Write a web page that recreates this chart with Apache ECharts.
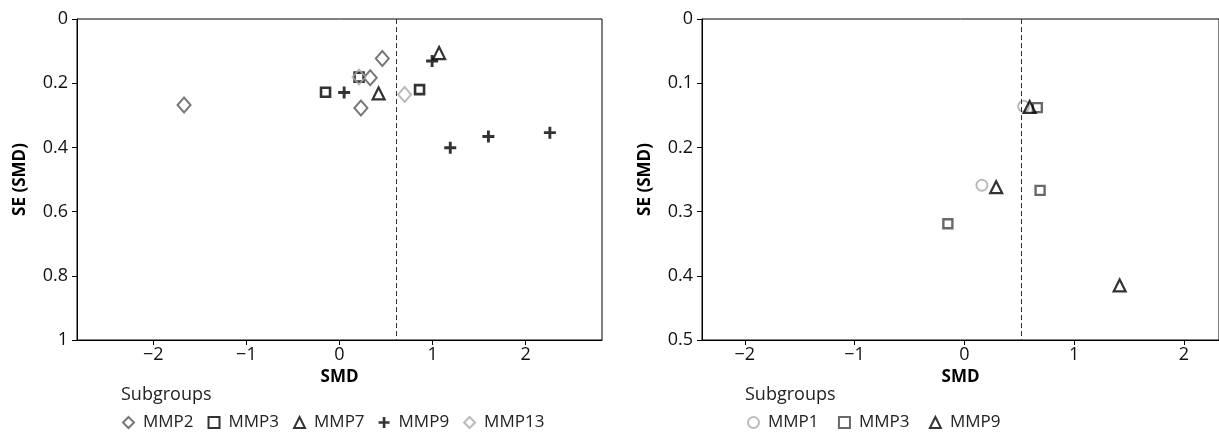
<!DOCTYPE html>
<html>
<head>
<meta charset="utf-8">
<script src="https://cdn.jsdelivr.net/npm/echarts@6/dist/echarts.min.js"></script>
<style>
  html, body { margin: 0; padding: 0; background: #fff; }
  #chart { width: 1219px; height: 432px; }
</style>
</head>
<body>
<div id="chart"></div>
<script>
// left funnel plot: [SMD, SE(SMD)]
var leftMMP2 = [[0.46, 0.123], [0.33, 0.183], [0.23, 0.277], [-1.67, 0.268]];
var leftMMP3 = [[-0.15, 0.228], [0.86, 0.220], [0.21, 0.181]];
var leftMMP7 = [[1.07, 0.106], [0.42, 0.232]];
var leftMMP9 = [[0.05, 0.229], [0.995, 0.131], [1.19, 0.401], [1.60, 0.366], [2.26, 0.354]];
var leftMMP13 = [[0.70, 0.235], [0.21, 0.181]];
var leftPooled = 0.614;

// right funnel plot
var rightMMP1 = [[0.54, 0.136], [0.16, 0.259]];
var rightMMP3 = [[0.665, 0.138], [0.69, 0.267], [-0.15, 0.319]];
var rightMMP9 = [[0.595, 0.137], [0.29, 0.262], [1.415, 0.415]];
var rightPooled = 0.517;

var xTicks = [-2, -1, 0, 1, 2];
var legendLeft = ['MMP2', 'MMP3', 'MMP7', 'MMP9', 'MMP13'];
var legendRight = ['MMP1 ', 'MMP3 ', 'MMP9 '];

var FONT = '"Open Sans", "Noto Sans", sans-serif';
var PLUS = 'path://M3.8,0H6.2V3.8H10V6.2H6.2V10H3.8V6.2H0V3.8H3.8Z';

function fmtMinus(v) {
    return v < 0 ? '\u2212' + Math.abs(v) : String(v);
}

function hollow(color, bw) {
    return { color: 'rgba(0,0,0,0)', borderColor: color, borderWidth: bw };
}

function xAxisFor(idx, min, max) {
    return {
        type: 'value', gridIndex: idx, min: min, max: max,
        name: 'SMD', nameLocation: 'middle', nameGap: 28,
        nameTextStyle: { fontFamily: FONT, fontSize: 17, fontWeight: 'bold', color: '#000' },
        axisLine: { show: true, onZero: false, lineStyle: { color: '#000', width: 1 } },
        axisTick: { show: true, length: 5, lineStyle: { color: '#000' }, customValues: xTicks },
        axisLabel: { fontFamily: FONT, fontSize: 18, color: '#111', margin: 6,
                     customValues: xTicks, formatter: fmtMinus },
        splitLine: { show: false }
    };
}

function yAxisFor(idx, max, interval) {
    return {
        type: 'value', gridIndex: idx, min: 0, max: max, interval: interval, inverse: true,
        name: 'SE (SMD)', nameLocation: 'middle', nameGap: 48,
        nameTextStyle: { fontFamily: FONT, fontSize: 17, fontWeight: 'bold', color: '#000' },
        axisLine: { show: true, onZero: false, lineStyle: { color: '#000', width: 1 } },
        axisTick: { show: true, length: 5, lineStyle: { color: '#000' } },
        axisLabel: { fontFamily: FONT, fontSize: 18, color: '#111', margin: 9 },
        splitLine: { show: false }
    };
}

function pooledLine(x) {
    return {
        silent: true, symbol: 'none', label: { show: false },
        lineStyle: { color: '#333', width: 1, type: [5, 3] },
        data: [{ xAxis: x }]
    };
}

var chart = echarts.init(document.getElementById('chart'));

var legendText = { fontFamily: FONT, fontSize: 17, color: '#222', padding: [0, 0, 0, 4] };

var option = {
    animation: false,
    backgroundColor: '#fff',
    title: [
        { text: 'Subgroups', left: 121, top: 386, padding: 0,
          textStyle: { fontFamily: FONT, fontSize: 18, fontWeight: 'normal', color: '#222' } },
        { text: 'Subgroups', left: 745, top: 386, padding: 0,
          textStyle: { fontFamily: FONT, fontSize: 18, fontWeight: 'normal', color: '#222' } }
    ],
    legend: [
        { data: legendLeft, left: 122, top: 414, padding: 0, itemGap: 14,
          itemWidth: 11, itemHeight: 11, textStyle: legendText },
        { data: legendRight, left: 747, top: 414, padding: 0, itemGap: 15,
          itemWidth: 11, itemHeight: 11, textStyle: legendText }
    ],
    grid: [
        { left: 77, right: 617, top: 19, bottom: 92, show: true, borderColor: '#000', borderWidth: 1 },
        { left: 702, right: -5, top: 19, bottom: 92, show: true, borderColor: '#000', borderWidth: 1 }
    ],
    xAxis: [xAxisFor(0, -2.82, 2.82), xAxisFor(1, -2.39, 2.32)],
    yAxis: [yAxisFor(0, 1, 0.2), yAxisFor(1, 0.5, 0.1)],
    series: [
        { name: 'MMP2', type: 'scatter', xAxisIndex: 0, yAxisIndex: 0, data: leftMMP2,
          symbol: 'diamond', symbolSize: [13, 15], itemStyle: hollow('#555', 2),
          markLine: pooledLine(leftPooled) },
        { name: 'MMP3', type: 'scatter', xAxisIndex: 0, yAxisIndex: 0, data: leftMMP3,
          symbol: 'rect', symbolSize: 9, itemStyle: hollow('#000', 2.6) },
        { name: 'MMP7', type: 'scatter', xAxisIndex: 0, yAxisIndex: 0, data: leftMMP7,
          symbol: 'triangle', symbolSize: 12, itemStyle: hollow('#000', 2.2) },
        { name: 'MMP9', type: 'scatter', xAxisIndex: 0, yAxisIndex: 0, data: leftMMP9,
          symbol: PLUS, symbolSize: 12, itemStyle: { color: '#000' } },
        { name: 'MMP13', type: 'scatter', xAxisIndex: 0, yAxisIndex: 0, data: leftMMP13,
          symbol: 'diamond', symbolSize: [13, 15], itemStyle: hollow('#aaa', 2) },

        { name: 'MMP1 ', type: 'scatter', xAxisIndex: 1, yAxisIndex: 1, data: rightMMP1,
          symbol: 'circle', symbolSize: 11, itemStyle: hollow('#aaa', 2),
          markLine: pooledLine(rightPooled) },
        { name: 'MMP3 ', type: 'scatter', xAxisIndex: 1, yAxisIndex: 1, data: rightMMP3,
          symbol: 'rect', symbolSize: 9, itemStyle: hollow('#444', 2.4) },
        { name: 'MMP9 ', type: 'scatter', xAxisIndex: 1, yAxisIndex: 1, data: rightMMP9,
          symbol: 'triangle', symbolSize: 12, itemStyle: hollow('#000', 2.2) }
    ]
};

chart.setOption(option);
</script>
</body>
</html>
